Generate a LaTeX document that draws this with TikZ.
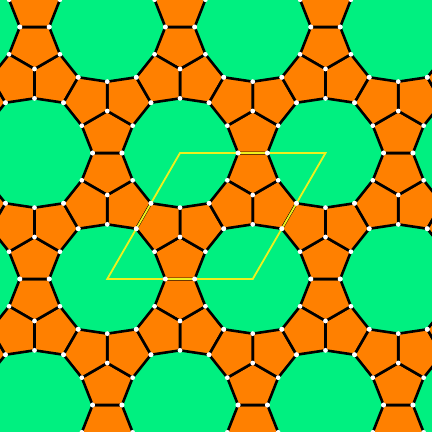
\documentclass[tikz,border=0pt]{standalone}
\usetikzlibrary{calc}
\definecolor{tgreen}{RGB}{0,240,128}
\definecolor{torange}{RGB}{255,128,0}
\definecolor{tyellow}{RGB}{238,240,30}
\tikzset{
  pent/.style={fill=torange,draw=black,line width=2.6pt,line join=round},
  vdot/.style={fill=white},
  cell/.style={draw=tyellow,line width=1.8pt,line join=miter}
}
\newcommand\mypent[2]{%
  \draw[pent] (T) -- ($(T)!0.34949!(#1)$) -- ($(#1)!0.39911!(#2)$) -- ($(#2)!0.39911!(#1)$) -- ($(T)!0.34949!(#2)$) -- cycle;}
\newcommand\mytriad[3]{%
  \coordinate (T) at ($0.333333*(#1)+0.333333*(#2)+0.333334*(#3)$);
  \mypent{#1}{#2}\mypent{#2}{#3}\mypent{#3}{#1}}
\newcommand\mypentdots[2]{%
  \fill[vdot] ($(T)!0.34949!(#1)$) circle (2.4pt);
  \fill[vdot] ($(#1)!0.39911!(#2)$) circle (2.4pt);
  \fill[vdot] ($(#2)!0.39911!(#1)$) circle (2.4pt);}
\newcommand\mytriaddots[3]{%
  \coordinate (T) at ($0.333333*(#1)+0.333333*(#2)+0.333334*(#3)$);
  \fill[vdot] (T) circle (2.4pt);
  \mypentdots{#1}{#2}\mypentdots{#2}{#3}\mypentdots{#3}{#1}}
\newcommand\mysetpts{%
  \coordinate (P) at ({180+145.5*\i+72.75*\j},{153-126*\j});
  \coordinate (Q) at ({180+145.5*(\i+1)+72.75*\j},{153-126*\j});
  \coordinate (R) at ({180+145.5*\i+72.75*(\j+1)},{153-126*(\j+1)});
  \coordinate (S) at ({180+145.5*(\i+1)+72.75*(\j+1)},{153-126*(\j+1)});}
\begin{document}
\begin{tikzpicture}[x=1pt,y=-1pt]
\useasboundingbox (0,0) rectangle (432,432);
\clip (0,0) rectangle (432,432);
\fill[tgreen] (-5,-5) rectangle (437,437);
\foreach \i in {-4,...,4}{\foreach \j in {-3,...,2}{
  \mysetpts
  \mytriad{P}{Q}{R}
  \mytriad{Q}{S}{R}
}}
\coordinate (c1) at (107.25,279);
\coordinate (c2) at (252.75,279);
\coordinate (c3) at (325.5,153);
\coordinate (c4) at (180,153);
\draw[cell] (c1) -- (c2) -- (c3) -- (c4) -- cycle;
\foreach \i in {-4,...,4}{\foreach \j in {-3,...,2}{
  \mysetpts
  \mytriaddots{P}{Q}{R}
  \mytriaddots{Q}{S}{R}
}}
\end{tikzpicture}
\end{document}
